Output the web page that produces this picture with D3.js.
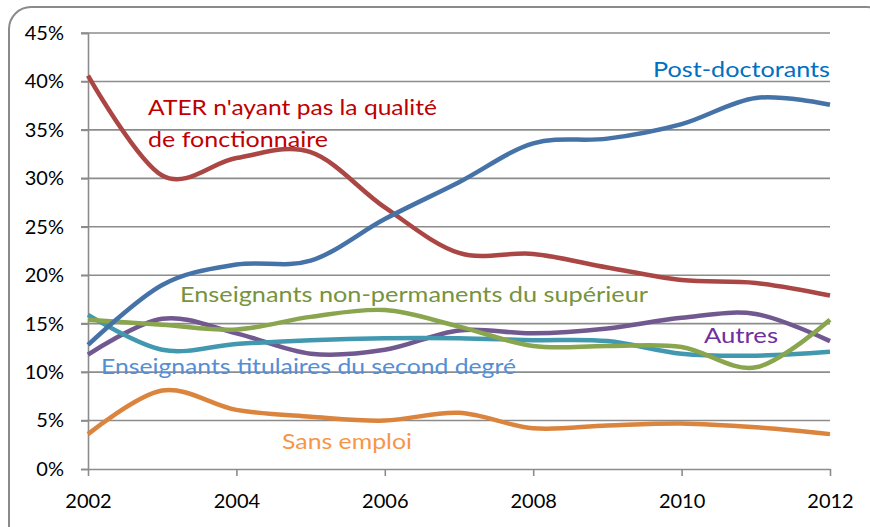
<!DOCTYPE html>
<html><head><meta charset="utf-8">
<script src="https://cdn.jsdelivr.net/npm/d3@7"></script>
<style>html,body{margin:0;padding:0;background:#fff;}svg{display:block;}</style>
</head><body>
<svg id="chart" width="870" height="527"></svg>
<script>
const years = [2002,2003,2004,2005,2006,2007,2008,2009,2010,2011,2012];
const xTicks = [2002,2004,2006,2008,2010,2012];
const yTicks = [0,5,10,15,20,25,30,35,40,45];
const seriesNames = ["ATER n'ayant pas la qualité de fonctionnaire","Post-doctorants","Enseignants non-permanents du supérieur","Enseignants titulaires du second degré","Autres","Sans emploi"];
const ater = [40.6,30.3,32.1,32.7,27.0,22.3,22.2,20.8,19.5,19.2,17.9];
const postdoc = [12.8,19.0,21.1,21.5,25.8,29.6,33.6,34.1,35.6,38.3,37.6];
const nonPerm = [15.4,14.9,14.4,15.7,16.4,14.7,12.7,12.7,12.6,10.5,15.4];
const titulaires = [15.9,12.3,12.9,13.3,13.5,13.5,13.3,13.2,11.9,11.7,12.1];
const autres = [11.8,15.5,14.0,11.9,12.3,14.3,14.0,14.5,15.6,16.0,13.2];
const sansEmploi = [3.6,8.1,6.1,5.4,5.0,5.8,4.2,4.5,4.7,4.3,3.6];

const svg = d3.select("#chart");
const FONT = "Lato, 'Open Sans', sans-serif";

// frame
svg.append("rect").attr("x",9).attr("y",7).attr("width",880).attr("height",560)
  .attr("rx",22).attr("ry",22).attr("fill","none").attr("stroke","#8a8a8a").attr("stroke-width",2);

const x = d3.scaleLinear().domain([2002,2012]).range([88,830]);
const y = d3.scaleLinear().domain([0,45]).range([469,33]);

// gridlines
svg.append("g").selectAll("line").data(yTicks.filter(d=>d>0)).join("line")
  .attr("x1",81).attr("x2",830).attr("y1",d=>y(d)).attr("y2",d=>y(d))
  .attr("stroke","#8c8c8c").attr("stroke-width",1.6);

// y axis
const yAxis = svg.append("g").attr("transform","translate(88,0)")
  .call(d3.axisLeft(y).tickValues(yTicks).tickFormat(d=>d+"%").tickSize(7).tickPadding(17));
yAxis.select(".domain").attr("stroke","#8c8c8c").attr("stroke-width",1.6);
yAxis.selectAll(".tick line").attr("stroke","#8c8c8c").attr("stroke-width",1.6);
yAxis.selectAll("text").attr("font-family",FONT).attr("font-size",20).attr("fill","#000");

// x axis
const xAxis = svg.append("g").attr("transform","translate(0,469)")
  .call(d3.axisBottom(x).tickValues(xTicks).tickFormat(d3.format("d")).tickSize(7).tickSizeOuter(0).tickPadding(18));
xAxis.select(".domain").attr("stroke","#8c8c8c").attr("stroke-width",1.6);
xAxis.selectAll(".tick line").attr("stroke","#8c8c8c").attr("stroke-width",1.6);
xAxis.selectAll("text").attr("font-family",FONT).attr("font-size",20).attr("fill","#000");

const series = [
  {values: ater, color:"#AA4643"},
  {values: postdoc, color:"#4572A7"},
  {values: nonPerm, color:"#89A54E"},
  {values: titulaires, color:"#4198AF"},
  {values: autres, color:"#71588F"},
  {values: sansEmploi, color:"#DB843D"}
];
const line = d3.line().x((d,i)=>x(years[i])).y(d=>y(d)).curve(d3.curveCardinal.tension(0));
const drawOrder = [5,4,3,2,0,1];
svg.append("g").selectAll("path").data(drawOrder.map(i=>series[i])).join("path")
  .attr("d",d=>line(d.values)).attr("fill","none").attr("stroke",d=>d.color)
  .attr("stroke-width",4.5).attr("stroke-linecap","butt").attr("stroke-linejoin","round");

// labels
const labels = [
  {t:"ATER n'ayant pas la qualité", x:148, y:115, w:289, c:"#C00000"},
  {t:"de fonctionnaire", x:148, y:147, w:180, c:"#C00000"},
  {t:seriesNames[1], x:653, y:77, w:177, c:"#0070C0"},
  {t:seriesNames[2], x:180, y:302, w:468, c:"#77933C"},
  {t:seriesNames[3], x:101, y:374, w:415, c:"#558ED5"},
  {t:seriesNames[4], x:704, y:343, w:74, c:"#7030A0"},
  {t:seriesNames[5], x:282, y:449, w:130, c:"#F79646"}
];
svg.append("g").selectAll("text").data(labels).join("text")
  .attr("x",d=>d.x).attr("y",d=>d.y).attr("fill",d=>d.c)
  .attr("font-family",FONT).attr("font-size",22)
  .attr("textLength",d=>d.w).attr("lengthAdjust","spacingAndGlyphs")
  .text(d=>d.t);
</script>
</body></html>
